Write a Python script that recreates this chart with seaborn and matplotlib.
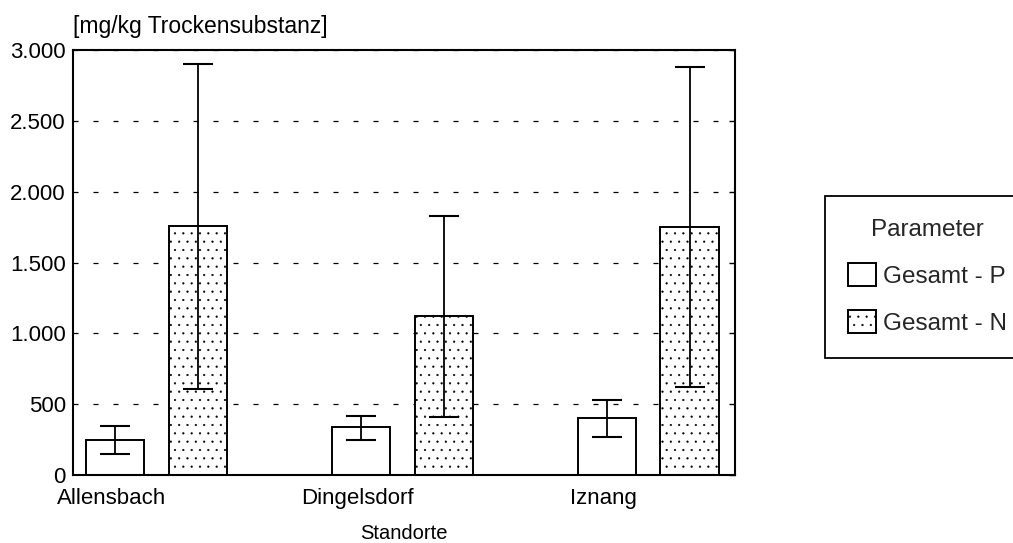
import numpy as np
import pandas as pd
import seaborn as sns
import matplotlib.pyplot as plt
from matplotlib.ticker import FuncFormatter
from matplotlib.transforms import ScaledTranslation

# Werte
standorte = ['Allensbach', 'Dingelsdorf', 'Iznang']
parameter = ['Gesamt - P', 'Gesamt - N']
mittel_p = [250, 340, 400]
mittel_n = [1760, 1120, 1750]
min_p = [150, 250, 270]
max_p = [350, 420, 530]
min_n = [610, 410, 620]
max_n = [2900, 1830, 2880]

df = pd.DataFrame({
    'Standort': standorte * 2,
    'Parameter': [parameter[0]] * 3 + [parameter[1]] * 3,
    'Wert': mittel_p + mittel_n,
    'Min': min_p + min_n,
    'Max': max_p + max_n,
})

sns.set_style('white')
plt.rcParams['font.family'] = ['Liberation Sans', 'DejaVu Sans']
plt.rcParams['hatch.linewidth'] = 0.35

fig = plt.figure(figsize=(10.13, 5.43), dpi=100)
ax = fig.add_axes([0.072, 0.125, 0.6536, 0.783])

sns.barplot(data=df, x='Standort', y='Wert', hue='Parameter', order=standorte,
            hue_order=parameter, width=0.675, gap=0.3, errorbar=None,
            color='white', edgecolor='black', linewidth=1.4, ax=ax)

# Schraffur fuer Gesamt - N und Fehlerbalken
n_bars = len(standorte)
for i, p in enumerate(ax.patches[:2 * n_bars]):
    p.set_facecolor('white')
    if i >= n_bars:
        p.set_hatch('..')
    row = df.iloc[i]
    xc = p.get_x() + p.get_width() / 2
    ax.errorbar(xc, row['Wert'],
                yerr=[[row['Wert'] - row['Min']], [row['Max'] - row['Wert']]],
                fmt='none', ecolor='black', elinewidth=1.3, capsize=10.5,
                capthick=1.5, zorder=5)

ax.set_xlim(-0.34, 2.354)
ax.set_ylim(0, 3000)
ax.set_yticks(np.arange(0, 3001, 500))
ax.yaxis.set_major_formatter(FuncFormatter(lambda v, _: f'{int(v):,}'.replace(',', '.')))

ax.set_axisbelow(True)
ax.grid(axis='y', color='black', linewidth=0.9, linestyle=(0, (4, 12)))
ax.grid(axis='x', visible=False)
for s in ax.spines.values():
    s.set_visible(True)
    s.set_color('black')
    s.set_linewidth(1.5)

ax.tick_params(axis='y', left=False, labelsize=16, pad=5, colors='black')
ax.tick_params(axis='y', which='major', right=True, direction='in', length=4, width=1)
ax.tick_params(axis='x', bottom=False, labelsize=16, pad=6, colors='black')

offset = ScaledTranslation(-0.45, 0, fig.dpi_scale_trans)
for lbl in ax.get_xticklabels():
    lbl.set_transform(lbl.get_transform() + offset)

ax.set_xlabel('Standorte', fontsize=14.5, labelpad=10.5, color='black')
ax.set_ylabel('')
ax.set_title('[mg/kg Trockensubstanz]', loc='left', fontsize=16.5, pad=12, color='black')

handles, labels = ax.get_legend_handles_labels()
for h in handles:
    h.set_facecolor('white')
handles[1].set_hatch('..')
ax.legend(handles, labels, title='Parameter', loc='upper left',
          bbox_to_anchor=(0.8144, 0.639), bbox_transform=fig.transFigure,
          borderaxespad=0, fontsize=17.5, title_fontsize=17.5, frameon=True,
          fancybox=False, edgecolor='black', framealpha=1, handlelength=1.15,
          handleheight=1.1, handletextpad=0.3, borderpad=0.95, labelspacing=0.9)
ax.get_legend().get_frame().set_linewidth(1.3)

fig.savefig('out.png', dpi=100)
